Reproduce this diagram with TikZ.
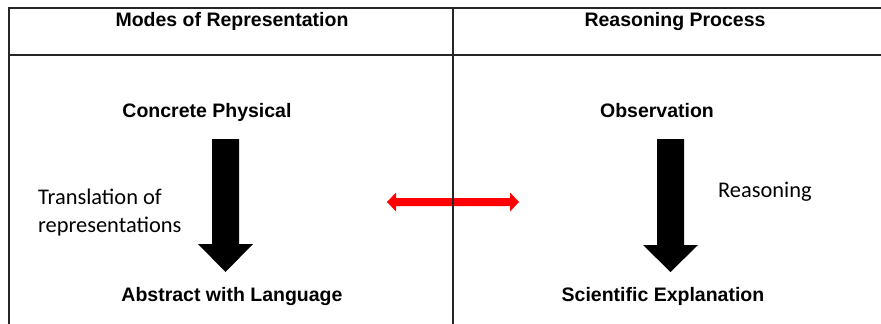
\documentclass[tikz,border=0pt]{standalone}
\usepackage{fontspec}
\setmainfont{Liberation Sans}
\newfontfamily\calib{Carlito}
\usetikzlibrary{calc}
\begin{document}
\begin{tikzpicture}[x=1pt,y=-1pt,
  hdr/.style={font=\fontsize{19.5}{22}\selectfont\bfseries, inner sep=0pt, anchor=base},
  lbl/.style={font=\fontsize{19.5}{22}\selectfont\bfseries, inner sep=0pt, anchor=base},
  note/.style={font=\calib\fontsize{22.4}{28}\selectfont, inner sep=0pt, align=left},
  grid/.style={line width=1.3pt, draw=black!85},
  blockarrow/.style={fill=black},
  redarrow/.style={fill=red}]
\useasboundingbox (0,0) rectangle (881,324);
\fill[white] (0,0) rectangle (881,324);

% red double arrow
\coordinate (rl) at (387,202);
\coordinate (rr) at (519,202);
\fill[redarrow] (rl) -- ($(rl)+(9,-9.5)$) -- ($(rl)+(9,-4)$) -- ($(rr)+(-9,-4)$) -- ($(rr)+(-9,-9.5)$) -- (rr)
  -- ($(rr)+(-9,9.5)$) -- ($(rr)+(-9,4)$) -- ($(rl)+(9,4)$) -- ($(rl)+(9,9.5)$) -- cycle;

% table lines
\coordinate (tl) at (9,8);
\coordinate (tr) at (890,8);
\coordinate (hl) at (9,55);
\coordinate (hr) at (890,55);
\coordinate (bl) at (9,330);
\coordinate (mt) at (453,8);
\coordinate (mb) at (453,330);
\draw[grid] (bl) -- (tl) -- (tr);
\draw[grid] (hl) -- (hr);
\draw[grid] (mt) -- (mb);

% headers
\node[hdr] (h1) at (232,26) {Modes of Representation};
\node[hdr] (h2) at (675,26) {Reasoning Process};

% left column
\node[lbl] (cp) at (207,117) {Concrete Physical};
\node[lbl] (aw) at (232,301) {Abstract with Language};
\node[note, anchor=base west] (tr1) at (38,232) {Translation of\\representations};

% right column
\node[lbl] (ob) at (657,117) {Observation};
\node[lbl] (se) at (663,301) {Scientific Explanation};
\node[note, anchor=base west] (rs) at (718,197) {Reasoning};

% black block arrows
\coordinate (la) at (225.5,139);
\coordinate (lt) at (225.5,272);
\fill[blockarrow] ($(la)+(-13.5,0)$) -- ($(la)+(13.5,0)$) -- ($(lt)+(13.5,-28)$) -- ($(lt)+(27.5,-28)$) -- (lt)
  -- ($(lt)+(-27.5,-28)$) -- ($(lt)+(-13.5,-28)$) -- cycle;
\coordinate (ra) at (670.5,139);
\coordinate (rt) at (670.5,272);
\fill[blockarrow] ($(ra)+(-13.5,0)$) -- ($(ra)+(13.5,0)$) -- ($(rt)+(13.5,-27)$) -- ($(rt)+(27.5,-27)$) -- (rt)
  -- ($(rt)+(-27.5,-27)$) -- ($(rt)+(-13.5,-27)$) -- cycle;
\end{tikzpicture}
\end{document}
